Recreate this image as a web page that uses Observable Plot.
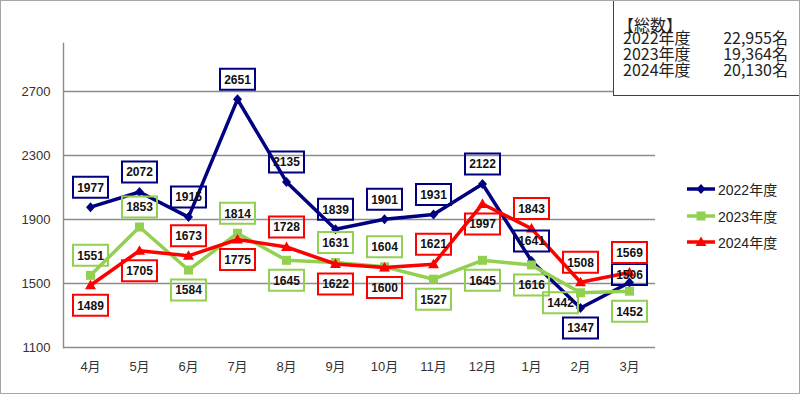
<!DOCTYPE html>
<html><head><meta charset="utf-8">
<script src="https://cdn.jsdelivr.net/npm/d3@7"></script>
<script src="https://cdn.jsdelivr.net/npm/@observablehq/plot@0.6"></script>
<style>
html,body{margin:0;padding:0;background:#fff;}
#wrap{position:relative;width:800px;height:394px;overflow:hidden;font-family:"Liberation Sans","Noto Sans CJK JP",sans-serif;}
#wrap svg{position:absolute;left:0;top:0;}
#frame{position:absolute;left:0;top:0;width:800px;height:394px;box-sizing:border-box;border:1px solid #a6a6a6;pointer-events:none;}
#total{position:absolute;left:613px;top:-1px;width:187px;height:97px;box-sizing:border-box;border:1px solid #404040;background:#fff;font-family:"Noto Sans CJK JP",sans-serif;font-size:16px;line-height:16px;color:#222;padding:14px 11px 0 9px;}
#total .row{display:flex;justify-content:space-between;height:16px;overflow:visible;}
#total .row span{display:inline-block;height:15px;line-height:16px;overflow:visible;}
#total .head{margin-left:-5px;height:15px;position:relative;top:2px;}
.leg{position:absolute;left:686px;height:16px;display:flex;align-items:center;font-size:14px;color:#222;}
.leg svg{position:static !important;margin-right:2px;}
</style></head>
<body>
<div id="wrap">
  <div id="chart"></div>
  <div id="total"></div>
  <div id="legend"></div>
  <div id="frame"></div>
</div>
<script>
const months = ["4月","5月","6月","7月","8月","9月","10月","11月","12月","1月","2月","3月"];
const series = ["2022年度","2023年度","2024年度"];
const v2022 = [1977,2072,1915,2651,2135,1839,1901,1931,2122,1641,1347,1506];
const v2023 = [1551,1853,1584,1814,1645,1631,1604,1527,1645,1616,1442,1452];
const v2024 = [1489,1705,1673,1775,1728,1622,1600,1621,1997,1843,1508,1569];
const yTicks = [1100,1500,1900,2300,2700];
const totalTitle = "【総数】";
const totals = ["22,955名","19,364名","20,130名"];

// layout: label placement per point (t = above, b = below, s = slightly above, w = lower-left)
const place = {
  "2022年度": ["t","t","t","t","t","t","t","t","t","t","b","s"],
  "2023年度": ["t","t","b","t","b","t","t","b","b","b","w","b"],
  "2024年度": ["b","b","t","b","t","b","b","t","b","t","t","t"]
};
const offs = {t:[0,-20], b:[0,20], s:[0,-8], w:[-20,10]};
const colors = ["#000080","#92d050","#ff0000"];

const values = [v2022, v2023, v2024];
const rows = [];
series.forEach((s, i) => months.forEach((m, j) => rows.push({series: s, month: m, value: values[i][j], pos: place[s][j]})));

const sym = {
  "2022年度": {draw(c){c.moveTo(0,-5);c.lineTo(4.5,0);c.lineTo(0,5);c.lineTo(-4.5,0);c.closePath();}},
  "2023年度": {draw(c){c.rect(-4.5,-4.5,9,9);}},
  "2024年度": {draw(c){c.moveTo(0,-5.5);c.lineTo(5.5,4);c.lineTo(-5.5,4);c.closePath();}}
};
const boxSym = {draw(c){c.rect(-17.5,-10.5,35,21);}};

const marks = [
  Plot.ruleY(yTicks, {stroke: "#8c8c8c", strokeWidth: 1.4}),
  Plot.frame({anchor: "left", stroke: "#8c8c8c", strokeWidth: 1.4})
];
series.forEach(s => {
  const d = rows.filter(r => r.series === s);
  marks.push(Plot.line(d, {x: "month", y: "value", stroke: "series", strokeWidth: 3.5, strokeLinejoin: "miter"}));
  marks.push(Plot.dot(d, {x: "month", y: "value", fill: "series", r: 5, symbol: () => sym[s]}));
});
series.forEach(s => {
  Object.keys(offs).forEach(k => {
    const d = rows.filter(r => r.series === s && r.pos === k);
    if (!d.length) return;
    const [dx, dy] = offs[k];
    marks.push(Plot.dot(d, {x: "month", y: "value", r: 5, symbol: () => boxSym, fill: "none", stroke: "series", strokeWidth: 2, dx, dy}));
    marks.push(Plot.text(d, {x: "month", y: "value", text: d => String(d.value), dx, dy: dy + 0.5, fill: "#111", fontWeight: "bold", fontSize: 12, fontFamily: "Liberation Sans, Arial, sans-serif"}));
  });
});

const chart = Plot.plot({
  width: 800, height: 394,
  marginLeft: 63, marginRight: 145, marginTop: 43, marginBottom: 47,
  style: {fontFamily: "'Liberation Sans','Noto Sans CJK JP',sans-serif", fontSize: "13px", color: "#333", background: "transparent"},
  x: {type: "point", domain: months, padding: 0.5, label: null, tickSize: 0, tickPadding: 14},
  y: {domain: [1100, 3000], ticks: yTicks, tickFormat: d => String(d), label: null, tickSize: 0, tickPadding: 13},
  color: {domain: series, range: colors},
  marks
});
document.getElementById("chart").appendChild(chart);

// totals box
const tot = document.getElementById("total");
const h = document.createElement("div"); h.className = "row head"; h.innerHTML = `<span>${totalTitle}</span>`; tot.appendChild(h);
series.forEach((s, i) => {
  const r = document.createElement("div"); r.className = "row";
  r.innerHTML = `<span>${s}</span><span>${totals[i]}</span>`;
  tot.appendChild(r);
});

// legend
const legTops = [181, 208, 234];
const legPaths = [
  '<path d="M15,1 L19.5,6 L15,11 L10.5,6 Z"/>',
  '<rect x="10.5" y="1.5" width="9" height="9"/>',
  '<path d="M15,0.5 L20.5,10 L9.5,10 Z"/>'
];
const leg = document.getElementById("legend");
series.forEach((s, i) => {
  const it = document.createElement("div"); it.className = "leg"; it.style.top = legTops[i] + "px";
  it.innerHTML = `<svg width="30" height="12" viewBox="0 0 30 12"><line x1="1" x2="29" y1="6" y2="6" stroke="${colors[i]}" stroke-width="3.5"/><g fill="${colors[i]}">${legPaths[i]}</g></svg><span>${s}</span>`;
  leg.appendChild(it);
});
</script>
</body></html>
